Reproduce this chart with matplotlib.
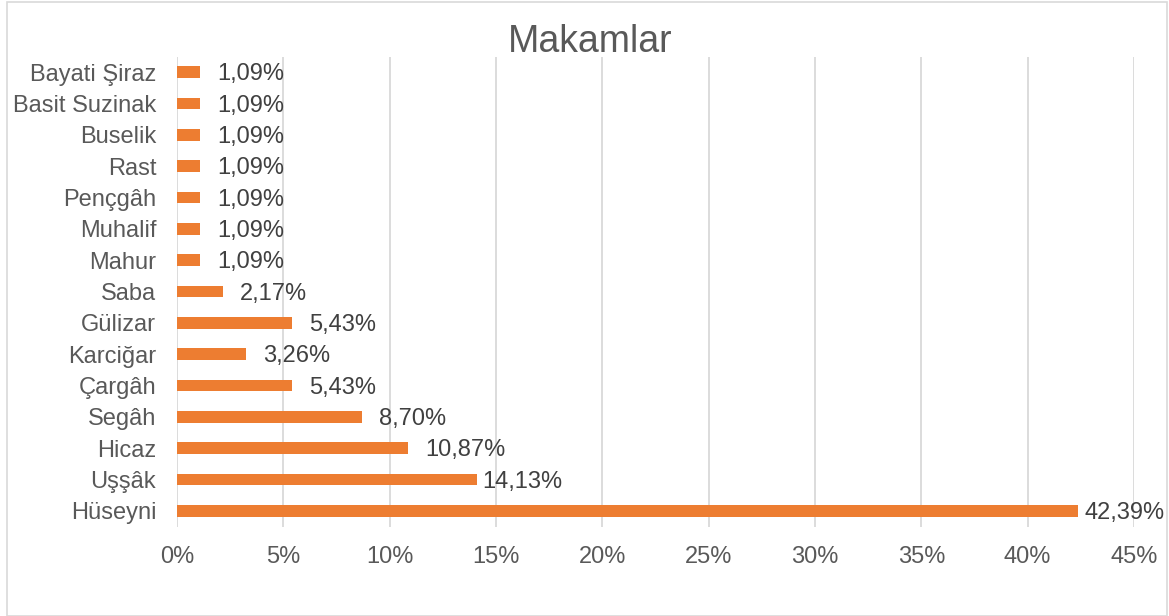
import matplotlib
matplotlib.use("Agg")
import matplotlib.pyplot as plt
from matplotlib.patches import Rectangle

plt.rcParams['font.family'] = ['Liberation Sans', 'DejaVu Sans']

categories = ["Hüseyni", "Uşşâk", "Hicaz", "Segâh", "Çargâh", "Karciğar", "Gülizar",
              "Saba", "Mahur", "Muhalif", "Pençgâh", "Rast", "Buselik",
              "Basit Suzinak", "Bayati Şiraz"]
values = [42.39, 14.13, 10.87, 8.70, 5.43, 3.26, 5.43, 2.17, 1.09, 1.09, 1.09,
          1.09, 1.09, 1.09, 1.09]
xticks = [0, 5, 10, 15, 20, 25, 30, 35, 40, 45]
# label gap after bar end, in points (style)
label_gap = [4.5, 3.5, 12, 12, 12, 12, 12, 12, 12, 12, 12, 12, 12, 12, 12]

fig = plt.figure(figsize=(11.69, 6.16), dpi=100)
ax = fig.add_axes([177/1169, 1 - 526.5/616, (1134 - 177)/1169, (526.5 - 56.5)/616])

y = list(range(len(categories)))
ax.barh(y, values, height=0.38, color="#ED7D31", zorder=3)
for yi, v, g in zip(y, values, label_gap):
    ax.annotate(f"{v:.2f}".replace(".", ",") + "%", xy=(v, yi), xytext=(g, -1.5),
                textcoords="offset points", va="center", ha="left",
                fontsize=17, color="#404040", zorder=4, annotation_clip=False)

ax.set_xlim(0, 45)
ax.set_ylim(-0.5, len(categories) - 0.5)
ax.set_yticks(y)
ax.set_yticklabels(categories, fontsize=17, color="#595959")
ax.set_xticks(xticks)
ax.set_xticklabels([f"{t}%" for t in xticks], fontsize=17, color="#595959")
ax.tick_params(axis='both', length=0)
ax.tick_params(axis='x', pad=14)
ax.tick_params(axis='y', pad=15)
ax.grid(axis='x', color="#D9D9D9", linewidth=1.3, zorder=0)
for s in ax.spines.values():
    s.set_visible(False)

fig.text(590/1169, 1 - 42/616, "Makamlar", ha="center", va="center", fontsize=27, color="#595959")

fig.patches.append(Rectangle((7/1169, 0.5/616), 1160/1169, 614/616, transform=fig.transFigure,
                             fill=False, edgecolor="#D9D9D9", linewidth=1.2))

fig.savefig("out.png", dpi=100)
